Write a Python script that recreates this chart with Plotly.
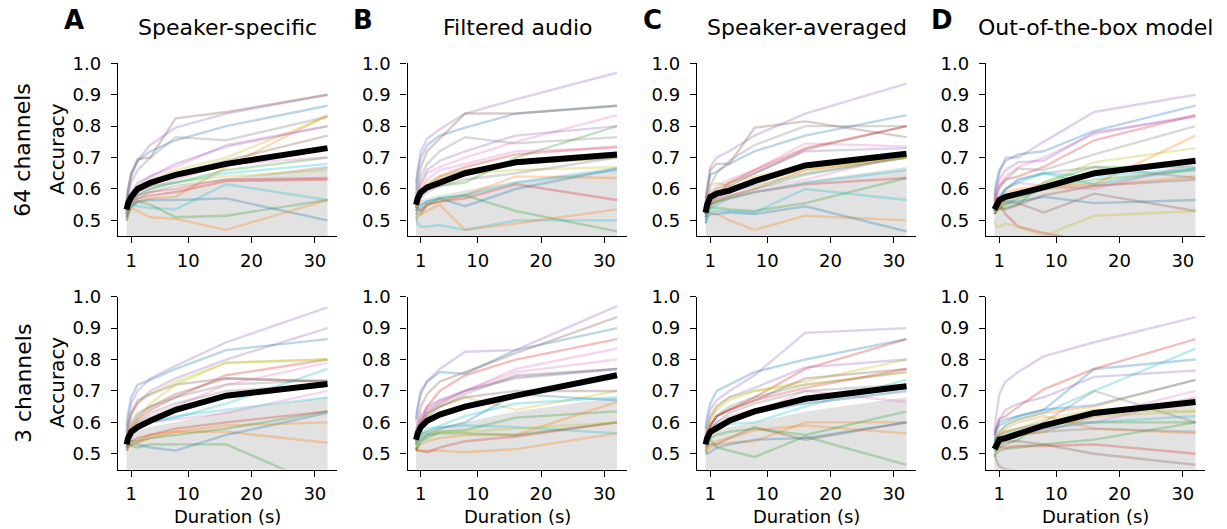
import plotly.graph_objects as go

# Segment durations (s) at which decoding accuracy was evaluated
durations = [0.25, 0.5, 1, 2, 4, 8, 16, 32]

panel_titles = ["Speaker-specific", "Filtered audio", "Speaker-averaged", "Out-of-the-box model"]
panel_letters = ["A", "B", "C", "D"]
row_labels = ["64 channels", "3 channels"]
x_ticks = [1, 10, 20, 30]
y_ticks = [0.5, 0.6, 0.7, 0.8, 0.9, 1.0]

# Upper edge of the chance-level band (95th percentile of shuffled accuracy)
chance_upper_64ch = [0.555, 0.56, 0.565, 0.57, 0.58, 0.595, 0.625, 0.67]
chance_upper_3ch = [0.555, 0.56, 0.565, 0.575, 0.585, 0.60, 0.635, 0.68]

# Per-participant accuracy curves (20 participants), one list per condition
speaker_specific_64ch = [
    [0.56, 0.60, 0.65, 0.69, 0.72, 0.755, 0.80, 0.865],
    [0.52, 0.54, 0.55, 0.56, 0.57, 0.575, 0.67, 0.835],
    [0.50, 0.52, 0.54, 0.56, 0.55, 0.51, 0.515, 0.565],
    [0.52, 0.54, 0.56, 0.58, 0.59, 0.60, 0.63, 0.635],
    [0.55, 0.59, 0.64, 0.69, 0.74, 0.795, 0.84, 0.90],
    [0.55, 0.60, 0.65, 0.695, 0.70, 0.825, 0.845, 0.90],
    [0.53, 0.55, 0.58, 0.61, 0.64, 0.67, 0.74, 0.80],
    [0.55, 0.58, 0.62, 0.66, 0.70, 0.765, 0.755, 0.83],
    [0.53, 0.55, 0.57, 0.60, 0.63, 0.66, 0.70, 0.83],
    [0.50, 0.52, 0.55, 0.545, 0.54, 0.535, 0.615, 0.565],
    [0.51, 0.53, 0.55, 0.56, 0.565, 0.565, 0.57, 0.50],
    [0.50, 0.52, 0.54, 0.53, 0.51, 0.505, 0.47, 0.565],
    [0.51, 0.54, 0.57, 0.60, 0.61, 0.62, 0.66, 0.70],
    [0.52, 0.54, 0.56, 0.57, 0.58, 0.59, 0.625, 0.63],
    [0.53, 0.56, 0.59, 0.62, 0.64, 0.68, 0.735, 0.80],
    [0.53, 0.55, 0.57, 0.59, 0.61, 0.65, 0.69, 0.77],
    [0.52, 0.54, 0.56, 0.58, 0.60, 0.63, 0.68, 0.70],
    [0.52, 0.53, 0.55, 0.57, 0.59, 0.61, 0.63, 0.67],
    [0.52, 0.54, 0.56, 0.58, 0.60, 0.62, 0.64, 0.66],
    [0.53, 0.55, 0.57, 0.58, 0.60, 0.62, 0.65, 0.68],
]
filtered_audio_64ch = [
    [0.60, 0.65, 0.70, 0.74, 0.77, 0.795, 0.84, 0.865],
    [0.52, 0.53, 0.53, 0.55, 0.56, 0.58, 0.64, 0.635],
    [0.51, 0.52, 0.52, 0.55, 0.57, 0.58, 0.53, 0.465],
    [0.53, 0.54, 0.53, 0.55, 0.56, 0.57, 0.615, 0.565],
    [0.62, 0.66, 0.72, 0.76, 0.79, 0.84, 0.885, 0.97],
    [0.58, 0.62, 0.67, 0.72, 0.76, 0.84, 0.84, 0.865],
    [0.55, 0.58, 0.61, 0.65, 0.67, 0.70, 0.75, 0.835],
    [0.57, 0.60, 0.64, 0.68, 0.72, 0.765, 0.745, 0.765],
    [0.54, 0.56, 0.58, 0.61, 0.63, 0.65, 0.66, 0.67],
    [0.51, 0.49, 0.48, 0.48, 0.485, 0.47, 0.50, 0.50],
    [0.53, 0.54, 0.55, 0.56, 0.57, 0.545, 0.60, 0.665],
    [0.50, 0.51, 0.52, 0.53, 0.55, 0.47, 0.49, 0.535],
    [0.54, 0.56, 0.58, 0.60, 0.61, 0.62, 0.70, 0.80],
    [0.54, 0.56, 0.58, 0.61, 0.64, 0.67, 0.71, 0.735],
    [0.56, 0.59, 0.62, 0.66, 0.69, 0.72, 0.77, 0.80],
    [0.54, 0.56, 0.58, 0.60, 0.63, 0.66, 0.68, 0.70],
    [0.55, 0.57, 0.60, 0.63, 0.66, 0.68, 0.72, 0.73],
    [0.53, 0.55, 0.57, 0.59, 0.61, 0.63, 0.65, 0.70],
    [0.54, 0.56, 0.59, 0.62, 0.64, 0.66, 0.68, 0.70],
    [0.52, 0.53, 0.54, 0.56, 0.57, 0.58, 0.62, 0.66],
]
speaker_averaged_64ch = [
    [0.57, 0.60, 0.645, 0.655, 0.68, 0.72, 0.77, 0.835],
    [0.52, 0.53, 0.525, 0.52, 0.50, 0.47, 0.515, 0.50],
    [0.50, 0.52, 0.54, 0.54, 0.535, 0.53, 0.555, 0.635],
    [0.52, 0.54, 0.55, 0.56, 0.57, 0.59, 0.615, 0.635],
    [0.55, 0.60, 0.67, 0.70, 0.72, 0.77, 0.84, 0.935],
    [0.55, 0.59, 0.66, 0.68, 0.68, 0.795, 0.815, 0.765],
    [0.53, 0.56, 0.59, 0.61, 0.63, 0.66, 0.745, 0.735],
    [0.54, 0.57, 0.61, 0.65, 0.69, 0.74, 0.80, 0.80],
    [0.54, 0.57, 0.61, 0.62, 0.61, 0.62, 0.66, 0.70],
    [0.49, 0.51, 0.53, 0.53, 0.53, 0.525, 0.60, 0.565],
    [0.49, 0.51, 0.52, 0.52, 0.525, 0.52, 0.545, 0.465],
    [0.51, 0.53, 0.55, 0.56, 0.58, 0.60, 0.66, 0.70],
    [0.51, 0.53, 0.55, 0.56, 0.575, 0.60, 0.645, 0.70],
    [0.52, 0.54, 0.56, 0.58, 0.62, 0.66, 0.73, 0.80],
    [0.52, 0.55, 0.58, 0.60, 0.62, 0.65, 0.72, 0.73],
    [0.52, 0.54, 0.56, 0.59, 0.61, 0.65, 0.725, 0.80],
    [0.52, 0.54, 0.56, 0.57, 0.58, 0.60, 0.63, 0.71],
    [0.51, 0.53, 0.55, 0.57, 0.59, 0.61, 0.65, 0.70],
    [0.53, 0.55, 0.58, 0.60, 0.62, 0.64, 0.67, 0.70],
    [0.52, 0.53, 0.54, 0.55, 0.57, 0.59, 0.62, 0.66],
]
out_of_box_64ch = [
    [0.58, 0.62, 0.66, 0.69, 0.71, 0.72, 0.785, 0.865],
    [0.53, 0.55, 0.57, 0.59, 0.60, 0.61, 0.615, 0.77],
    [0.52, 0.53, 0.535, 0.54, 0.55, 0.62, 0.67, 0.67],
    [0.55, 0.58, 0.61, 0.63, 0.64, 0.67, 0.755, 0.835],
    [0.56, 0.60, 0.65, 0.70, 0.70, 0.75, 0.845, 0.90],
    [0.53, 0.54, 0.55, 0.555, 0.555, 0.525, 0.585, 0.53],
    [0.55, 0.58, 0.61, 0.64, 0.67, 0.70, 0.775, 0.835],
    [0.54, 0.57, 0.60, 0.63, 0.665, 0.66, 0.71, 0.80],
    [0.52, 0.53, 0.54, 0.56, 0.58, 0.62, 0.685, 0.73],
    [0.53, 0.55, 0.57, 0.60, 0.62, 0.65, 0.615, 0.665],
    [0.53, 0.54, 0.55, 0.56, 0.56, 0.575, 0.555, 0.565],
    [0.52, 0.53, 0.55, 0.57, 0.58, 0.60, 0.61, 0.64],
    [0.52, 0.53, 0.54, 0.55, 0.57, 0.60, 0.63, 0.66],
    [0.53, 0.54, 0.55, 0.52, 0.48, 0.46, 0.43, 0.40],
    [0.56, 0.60, 0.63, 0.66, 0.685, 0.69, 0.78, 0.83],
    [0.52, 0.53, 0.54, 0.535, 0.55, 0.58, 0.61, 0.63],
    [0.54, 0.56, 0.58, 0.60, 0.62, 0.61, 0.60, 0.68],
    [0.53, 0.55, 0.57, 0.60, 0.63, 0.65, 0.67, 0.635],
    [0.50, 0.48, 0.48, 0.49, 0.48, 0.45, 0.515, 0.53],
    [0.53, 0.55, 0.57, 0.60, 0.63, 0.65, 0.64, 0.665],
]
speaker_specific_3ch = [
    [0.59, 0.63, 0.68, 0.72, 0.735, 0.77, 0.83, 0.865],
    [0.51, 0.52, 0.53, 0.54, 0.56, 0.57, 0.57, 0.535],
    [0.52, 0.53, 0.525, 0.52, 0.53, 0.53, 0.53, 0.39],
    [0.53, 0.55, 0.58, 0.61, 0.64, 0.68, 0.75, 0.80],
    [0.57, 0.61, 0.66, 0.70, 0.74, 0.78, 0.855, 0.966],
    [0.55, 0.59, 0.63, 0.67, 0.69, 0.72, 0.74, 0.73],
    [0.53, 0.55, 0.57, 0.59, 0.60, 0.61, 0.63, 0.70],
    [0.54, 0.57, 0.60, 0.63, 0.65, 0.68, 0.72, 0.735],
    [0.55, 0.58, 0.62, 0.66, 0.69, 0.73, 0.79, 0.80],
    [0.52, 0.54, 0.56, 0.58, 0.60, 0.615, 0.66, 0.77],
    [0.51, 0.52, 0.53, 0.53, 0.52, 0.51, 0.56, 0.63],
    [0.51, 0.52, 0.53, 0.535, 0.55, 0.57, 0.59, 0.60],
    [0.52, 0.53, 0.54, 0.54, 0.55, 0.56, 0.58, 0.635],
    [0.52, 0.53, 0.54, 0.55, 0.56, 0.58, 0.60, 0.635],
    [0.56, 0.59, 0.63, 0.66, 0.70, 0.74, 0.80, 0.90],
    [0.53, 0.56, 0.59, 0.62, 0.65, 0.69, 0.74, 0.73],
    [0.54, 0.56, 0.58, 0.60, 0.62, 0.65, 0.72, 0.79],
    [0.53, 0.55, 0.57, 0.60, 0.63, 0.66, 0.70, 0.72],
    [0.53, 0.55, 0.58, 0.61, 0.66, 0.72, 0.79, 0.80],
    [0.53, 0.55, 0.57, 0.59, 0.60, 0.62, 0.64, 0.68],
]
filtered_audio_3ch = [
    [0.61, 0.65, 0.70, 0.73, 0.76, 0.755, 0.83, 0.90],
    [0.52, 0.51, 0.51, 0.51, 0.51, 0.505, 0.515, 0.565],
    [0.51, 0.53, 0.54, 0.55, 0.57, 0.575, 0.615, 0.635],
    [0.53, 0.56, 0.60, 0.65, 0.70, 0.75, 0.80, 0.865],
    [0.60, 0.64, 0.69, 0.73, 0.77, 0.825, 0.83, 0.97],
    [0.57, 0.60, 0.65, 0.69, 0.73, 0.76, 0.82, 0.935],
    [0.55, 0.58, 0.61, 0.64, 0.67, 0.70, 0.77, 0.835],
    [0.55, 0.57, 0.60, 0.63, 0.66, 0.70, 0.74, 0.77],
    [0.53, 0.55, 0.58, 0.62, 0.65, 0.68, 0.64, 0.70],
    [0.53, 0.55, 0.56, 0.58, 0.585, 0.59, 0.585, 0.565],
    [0.53, 0.54, 0.55, 0.56, 0.58, 0.60, 0.69, 0.67],
    [0.51, 0.52, 0.53, 0.54, 0.55, 0.56, 0.56, 0.665],
    [0.51, 0.52, 0.54, 0.56, 0.565, 0.565, 0.56, 0.60],
    [0.52, 0.51, 0.51, 0.505, 0.52, 0.54, 0.555, 0.60],
    [0.56, 0.59, 0.62, 0.65, 0.67, 0.70, 0.745, 0.77],
    [0.54, 0.57, 0.60, 0.63, 0.65, 0.68, 0.70, 0.70],
    [0.55, 0.58, 0.61, 0.64, 0.66, 0.70, 0.76, 0.80],
    [0.54, 0.56, 0.59, 0.62, 0.65, 0.69, 0.75, 0.77],
    [0.52, 0.54, 0.56, 0.57, 0.57, 0.57, 0.58, 0.60],
    [0.54, 0.55, 0.56, 0.57, 0.59, 0.62, 0.66, 0.68],
]
speaker_averaged_3ch = [
    [0.58, 0.62, 0.66, 0.70, 0.72, 0.76, 0.80, 0.865],
    [0.50, 0.51, 0.52, 0.53, 0.535, 0.54, 0.60, 0.60],
    [0.52, 0.53, 0.545, 0.52, 0.51, 0.49, 0.555, 0.465],
    [0.53, 0.56, 0.59, 0.62, 0.64, 0.68, 0.77, 0.865],
    [0.56, 0.60, 0.64, 0.67, 0.70, 0.75, 0.885, 0.90],
    [0.51, 0.52, 0.53, 0.53, 0.55, 0.585, 0.545, 0.60],
    [0.53, 0.55, 0.57, 0.59, 0.61, 0.63, 0.70, 0.665],
    [0.54, 0.56, 0.59, 0.62, 0.65, 0.68, 0.72, 0.76],
    [0.55, 0.58, 0.61, 0.64, 0.67, 0.70, 0.73, 0.80],
    [0.53, 0.56, 0.58, 0.595, 0.595, 0.60, 0.65, 0.735],
    [0.51, 0.50, 0.505, 0.52, 0.53, 0.545, 0.55, 0.60],
    [0.51, 0.52, 0.53, 0.54, 0.55, 0.575, 0.59, 0.565],
    [0.52, 0.53, 0.55, 0.56, 0.57, 0.58, 0.56, 0.635],
    [0.53, 0.56, 0.59, 0.62, 0.64, 0.67, 0.71, 0.77],
    [0.55, 0.58, 0.62, 0.65, 0.68, 0.71, 0.775, 0.80],
    [0.53, 0.56, 0.59, 0.62, 0.64, 0.67, 0.74, 0.77],
    [0.53, 0.55, 0.57, 0.60, 0.62, 0.64, 0.66, 0.70],
    [0.53, 0.55, 0.58, 0.60, 0.63, 0.66, 0.70, 0.72],
    [0.54, 0.57, 0.61, 0.65, 0.68, 0.70, 0.72, 0.76],
    [0.53, 0.55, 0.57, 0.59, 0.61, 0.63, 0.66, 0.70],
]
out_of_box_3ch = [
    [0.56, 0.58, 0.60, 0.61, 0.62, 0.64, 0.77, 0.80],
    [0.53, 0.55, 0.57, 0.59, 0.61, 0.63, 0.65, 0.735],
    [0.50, 0.51, 0.52, 0.53, 0.545, 0.60, 0.60, 0.60],
    [0.56, 0.58, 0.61, 0.62, 0.65, 0.705, 0.77, 0.865],
    [0.57, 0.62, 0.69, 0.73, 0.76, 0.81, 0.855, 0.935],
    [0.50, 0.48, 0.46, 0.45, 0.445, 0.44, 0.43, 0.42],
    [0.52, 0.53, 0.54, 0.55, 0.56, 0.57, 0.62, 0.70],
    [0.53, 0.55, 0.56, 0.57, 0.58, 0.60, 0.70, 0.60],
    [0.52, 0.54, 0.56, 0.57, 0.58, 0.61, 0.64, 0.635],
    [0.53, 0.55, 0.57, 0.59, 0.61, 0.63, 0.70, 0.835],
    [0.54, 0.57, 0.59, 0.60, 0.62, 0.64, 0.655, 0.735],
    [0.52, 0.54, 0.56, 0.58, 0.60, 0.62, 0.58, 0.565],
    [0.49, 0.50, 0.51, 0.515, 0.52, 0.53, 0.545, 0.60],
    [0.51, 0.51, 0.52, 0.52, 0.525, 0.525, 0.53, 0.50],
    [0.55, 0.58, 0.61, 0.64, 0.66, 0.68, 0.745, 0.765],
    [0.51, 0.52, 0.53, 0.54, 0.54, 0.53, 0.50, 0.465],
    [0.52, 0.53, 0.54, 0.55, 0.56, 0.58, 0.60, 0.68],
    [0.52, 0.53, 0.54, 0.55, 0.56, 0.57, 0.58, 0.57],
    [0.51, 0.52, 0.53, 0.55, 0.56, 0.57, 0.62, 0.635],
    [0.52, 0.53, 0.55, 0.56, 0.57, 0.58, 0.60, 0.62],
]

# Group-average accuracy (black curves)
mean_speaker_specific_64ch = [0.535, 0.555, 0.575, 0.60, 0.62, 0.645, 0.68, 0.73]
mean_filtered_audio_64ch = [0.55, 0.57, 0.59, 0.605, 0.62, 0.65, 0.685, 0.71]
mean_speaker_averaged_64ch = [0.525, 0.55, 0.575, 0.585, 0.595, 0.625, 0.675, 0.712]
mean_out_of_box_64ch = [0.535, 0.55, 0.565, 0.575, 0.585, 0.605, 0.65, 0.69]
mean_speaker_specific_3ch = [0.53, 0.55, 0.57, 0.585, 0.605, 0.64, 0.685, 0.722]
mean_filtered_audio_3ch = [0.545, 0.565, 0.585, 0.605, 0.625, 0.65, 0.685, 0.75]
mean_speaker_averaged_3ch = [0.53, 0.55, 0.57, 0.58, 0.605, 0.635, 0.675, 0.715]
mean_out_of_box_3ch = [0.515, 0.53, 0.545, 0.55, 0.565, 0.59, 0.63, 0.665]

tab10 = ["#1f77b4", "#ff7f0e", "#2ca02c", "#d62728", "#9467bd",
         "#8c564b", "#e377c2", "#7f7f7f", "#bcbd22", "#17becf"]


def rgba(hex_color, alpha):
    h = hex_color.lstrip("#")
    r, g, b = int(h[0:2], 16), int(h[2:4], 16), int(h[4:6], 16)
    return f"rgba({r},{g},{b},{alpha})"


grid = [
    [(speaker_specific_64ch, mean_speaker_specific_64ch),
     (filtered_audio_64ch, mean_filtered_audio_64ch),
     (speaker_averaged_64ch, mean_speaker_averaged_64ch),
     (out_of_box_64ch, mean_out_of_box_64ch)],
    [(speaker_specific_3ch, mean_speaker_specific_3ch),
     (filtered_audio_3ch, mean_filtered_audio_3ch),
     (speaker_averaged_3ch, mean_speaker_averaged_3ch),
     (out_of_box_3ch, mean_out_of_box_3ch)],
]
chance_rows = [chance_upper_64ch, chance_upper_3ch]

W, H = 1227, 529
FONT = "DejaVu Sans"

# Plot-area geometry in pixels
col_left = [118.0, 407.5, 697.0, 986.0]
col_width = 219.0
row_top = [63.3, 296.7]
row_height = 172.8

fig = go.Figure()
layout = dict(
    template="none",
    width=W, height=H,
    margin=dict(l=0, r=0, t=0, b=0, pad=0, autoexpand=False),
    paper_bgcolor="white", plot_bgcolor="white",
    showlegend=False,
    font=dict(family=FONT, color="black"),
)

annotations = []
idx = 0
for r in range(2):
    for c in range(4):
        idx += 1
        xa = "x" if idx == 1 else f"x{idx}"
        ya = "y" if idx == 1 else f"y{idx}"
        subjects, mean_curve = grid[r][c]

        fig.add_trace(go.Scatter(
            x=durations, y=chance_rows[r], mode="lines",
            line=dict(width=0, color="rgba(0,0,0,0)"),
            fill="tozeroy", fillcolor="#e2e2e2",
            xaxis=xa, yaxis=ya, hoverinfo="skip"))

        for s, vals in enumerate(subjects):
            fig.add_trace(go.Scatter(
                x=durations, y=vals, mode="lines",
                line=dict(width=2.4, color=rgba(tab10[s % 10], 0.3)),
                xaxis=xa, yaxis=ya, hoverinfo="skip"))

        fig.add_trace(go.Scatter(
            x=durations, y=mean_curve, mode="lines",
            line=dict(width=6, color="black"),
            xaxis=xa, yaxis=ya, hoverinfo="skip"))

        x0 = col_left[c] / W
        x1 = (col_left[c] + col_width) / W
        y1 = 1 - row_top[r] / H
        y0 = 1 - (row_top[r] + row_height) / H

        axis_common = dict(
            automargin=False,
            showgrid=False, zeroline=False, showline=True,
            linecolor="black", linewidth=1.4,
            ticks="outside", ticklen=6, tickwidth=1.4, tickcolor="black",
            tickfont=dict(family=FONT, size=18, color="black"),
        )
        layout["xaxis" if idx == 1 else f"xaxis{idx}"] = dict(
            domain=[x0, x1], anchor=ya, range=[-1.1, 33.5],
            tickvals=x_ticks, ticktext=[str(t) for t in x_ticks],
            ticklabelstandoff=2, **axis_common)
        layout["yaxis" if idx == 1 else f"yaxis{idx}"] = dict(
            domain=[y0, y1], anchor=xa, range=[0.45, 1.0],
            tickvals=y_ticks, ticktext=[f"{t:.1f}" for t in y_ticks],
            ticklabelstandoff=6, **axis_common)

        cx = (col_left[c] + col_width / 2) / W
        if r == 0:
            annotations.append(dict(
                text=panel_titles[c], x=cx, y=1 - 28 / H, xref="paper", yref="paper",
                xanchor="center", yanchor="middle", showarrow=False,
                font=dict(family=FONT, size=22, color="black")))
        else:
            annotations.append(dict(
                text="Duration (s)", x=cx, y=1 - 516 / H, xref="paper", yref="paper",
                xanchor="center", yanchor="middle", showarrow=False,
                font=dict(family=FONT, size=18, color="black")))

letter_x = [74, 363, 652, 942]
for c in range(4):
    annotations.append(dict(
        text=f"<b>{panel_letters[c]}</b>", x=letter_x[c] / W, y=1 - 20 / H,
        xref="paper", yref="paper", xanchor="center", yanchor="middle",
        showarrow=False, font=dict(family=FONT, size=26, color="black")))

for r in range(2):
    cy = 1 - (row_top[r] + row_height / 2) / H
    annotations.append(dict(
        text=row_labels[r], x=23 / W, y=cy, xref="paper", yref="paper",
        xanchor="center", yanchor="middle", textangle=-90, showarrow=False,
        font=dict(family=FONT, size=22, color="black")))
    annotations.append(dict(
        text="Accuracy", x=57 / W, y=cy, xref="paper", yref="paper",
        xanchor="center", yanchor="middle", textangle=-90, showarrow=False,
        font=dict(family=FONT, size=20, color="black")))

layout["annotations"] = annotations
fig.update_layout(**layout)
fig.write_html("out.html")
